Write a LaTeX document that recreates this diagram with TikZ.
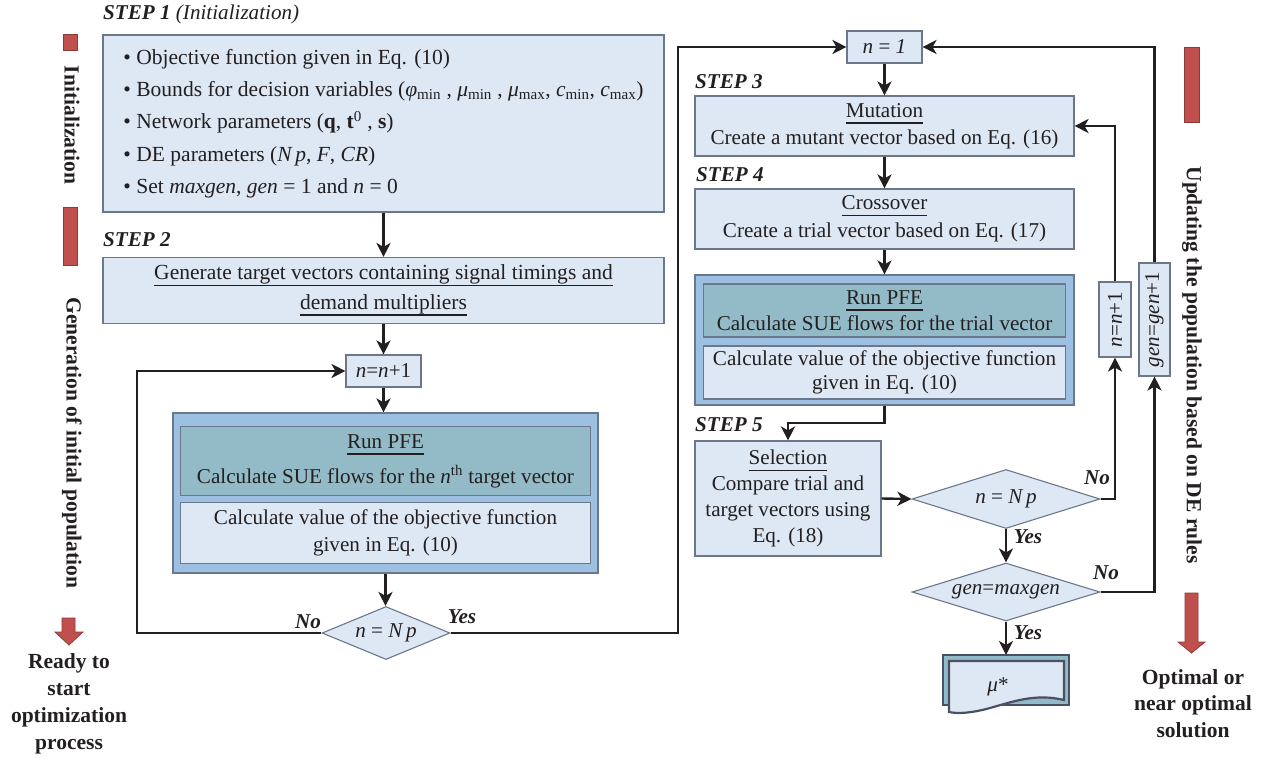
\documentclass[tikz,border=0pt]{standalone}
\usepackage{fontspec}
\setmainfont{Liberation Serif}
\usetikzlibrary{shapes.geometric,arrows.meta}
\definecolor{boxfill}{HTML}{DDE8F4}
\definecolor{boxline}{HTML}{6B788C}
\definecolor{pfeout}{HTML}{9DBFE1}
\definecolor{pfeteal}{HTML}{93BAC7}
\definecolor{redbar}{HTML}{C0504D}
\definecolor{redline}{HTML}{8C3A38}
\definecolor{ink}{HTML}{231F20}
\definecolor{docline}{HTML}{4A5162}
\newcommand\ulx[1]{\setbox0\hbox{#1}\rlap{\rule[-6.5bp]{\wd0}{1.7bp}}\box0}
\newcommand\fs[1]{\fontsize{21.2}{#1}\selectfont}
\newcommand\fsb[1]{\fontsize{21.6}{#1}\selectfont}
\tikzset{
  every node/.style={font=\fs{27}, text=ink},
  box/.style={draw=boxline, line width=1.1bp, fill=boxfill, inner sep=0pt, align=center},
  conn/.style={draw=ink, line width=2.4bp, -{Stealth[length=14bp,width=14bp,inset=4bp]}},
  dec/.style={diamond, draw=boxline, line width=1.1bp, fill=boxfill, inner sep=0pt},
  lbl/.style={font=\fs{27}\bfseries\itshape, inner sep=0pt},
  side/.style={font=\fsb{27}\bfseries, align=center, inner sep=0pt},
  redshape/.style={fill=redbar, draw=redline, line width=0.8bp},
}
\begin{document}
\begin{tikzpicture}[x=1bp, y=-1bp]
\useasboundingbox (0,0) rectangle (1263,758);

% red markers
\draw[redshape] (63,34) rectangle (77,50);
\draw[redshape] (63,207) rectangle (77,265);
\draw[redshape] (1184,47) rectangle (1199,122);
\draw[redshape] (62,618) -- (75,618) -- (75,632) -- (83,632) -- (69,645) -- (55,632) -- (62,632) -- cycle;
\draw[redshape] (1185,593) -- (1198,593) -- (1198,642) -- (1205,642) -- (1191.5,653) -- (1178,642) -- (1185,642) -- cycle;

% side labels
\node[side, rotate=-90] (sInit) at (72,125) {Initialization};
\node[side, rotate=-90] (sGen) at (72,443) {Generation of initial population};
\node[side, font=\fsb{27.3}\bfseries] (sReady) at (69,704) {Ready to\\start\\optimization\\process};
\node[side, rotate=-90] (sUpd) at (1192,365) {Updating the population based on DE rules};
\node[side, font=\fsb{26.5}\bfseries] (sOpt) at (1193,703.5) {Optimal or\\near optimal\\solution};

% step labels
\node[lbl, anchor=west] (st1) at (103,14) {STEP 1 {\mdseries (Initialization)}};
\node[lbl, anchor=west] (st2) at (103,240) {STEP 2};
\node[lbl, anchor=west] (st3) at (695,82) {STEP 3};
\node[lbl, anchor=west] (st4) at (696,175) {STEP 4};
\node[lbl, anchor=west] (st5) at (695,425) {STEP 5};

% left column
\node[box, align=left, minimum width=561bp, minimum height=177bp, font=\fsb{32.5}] (s1) at (383.5,123.5)
 {• Objective function given in Eq. (10)\\
  • Bounds for decision variables (\textit{φ}\textsubscript{min} , \textit{μ}\textsubscript{min} , \textit{μ}\textsubscript{max}, \textit{c}\textsubscript{min}, \textit{c}\textsubscript{max})\\
  • Network parameters (\textbf{q}, \textbf{t}\textsuperscript{0} , \textbf{s})\\
  • DE parameters (\textit{N\,p}, \textit{F}, \textit{CR})\\
  • Set \textit{maxgen}, \textit{gen} = 1 and \textit{n} = 0};
\node[box, minimum width=561bp, minimum height=66bp, font=\fsb{30}] (s2) at (383.5,290.5)
 {\ulx{Generate target vectors containing signal timings and}\\\ulx{demand multipliers}};
\node[box, minimum width=75bp, minimum height=32bp] (nn1) at (383.5,371) {\textit{n}=\textit{n}+1};
\node[box, fill=pfeout, minimum width=425bp, minimum height=160bp] (pfe1) at (385.5,493) {};
\node[box, fill=pfeteal, minimum width=410bp, minimum height=69bp, font=\fs{35}] (t1) at (385.5,461)
 {\ulx{Run PFE}\\Calculate SUE flows for the \textit{n}\textsuperscript{th} target vector};
\node[box, minimum width=410bp, minimum height=61bp, font=\fs{27}] (c1) at (385.5,533)
 {Calculate value of the objective function\\given in Eq. (10)};
\node[dec, aspect=2.4, minimum width=128bp, minimum height=53bp] (dA) at (386,633) {\textit{n} = \textit{N\,p}};

% right column
\node[box, minimum width=75bp, minimum height=32bp] (n1) at (884.5,47) {\textit{n} = \textit{1}};
\node[box, minimum width=379bp, minimum height=60bp, font=\fs{27}] (mut) at (884.5,126)
 {\ulx{Mutation}\\Create a mutant vector based on Eq. (16)};
\node[box, minimum width=379bp, minimum height=60bp, font=\fs{28}] (cro) at (884.5,219)
 {\ulx{Crossover}\\Create a trial vector based on Eq. (17)};
\node[box, fill=pfeout, minimum width=379bp, minimum height=130bp] (pfe2) at (884.5,340) {};
\node[box, fill=pfeteal, minimum width=362bp, minimum height=53bp, font=\fs{26}] (t2) at (884.5,310.5)
 {\ulx{Run PFE}\\Calculate SUE flows for the trial vector};
\node[box, minimum width=362bp, minimum height=53bp, font=\fs{24}] (c2) at (884.5,372.5)
 {Calculate value of the objective function\\given in Eq. (10)};
\node[box, minimum width=186bp, minimum height=115bp, font=\fs{26}] (sel) at (788,498.5)
 {\ulx{Selection}\\Compare trial and\\target vectors using\\Eq. (18)};
\node[dec, aspect=3.2, minimum width=188bp, minimum height=59bp] (dB) at (1006,499) {\textit{n} = \textit{N\,p}};
\node[dec, aspect=3.2, minimum width=188bp, minimum height=58bp] (dC) at (1006,592) {\textit{gen}=\textit{maxgen}};
\node[box, minimum width=32bp, minimum height=75bp] (nn2) at (1115,319.5) {\rotatebox{90}{\textit{n}=\textit{n}+1}};
\node[box, minimum width=31bp, minimum height=113bp] (gg) at (1154.5,319.5) {\rotatebox{90}{\textit{gen}=\textit{gen}+1}};

% output document
\draw[draw=docline, line width=2.2bp, fill=pfeteal] (943,655) rectangle (1069,705);
\draw[draw=docline, line width=2.2bp, fill=boxfill] (949,661) -- (1064,661) -- (1064,700)
  .. controls (1035,693) and (1012,702) .. (990,708) .. controls (972,713) and (958,714) .. (949,712) -- cycle;
\coordinate (doctop) at (1006,655);
\node (mu) at (998,687) {\textit{μ}*};

% yes/no labels
\node[lbl] (noA) at (308,622) {No};
\node[lbl] (yesA) at (462,617) {Yes};
\node[lbl] (noB) at (1097,478) {No};
\node[lbl] (yesB) at (1028,537) {Yes};
\node[lbl] (noC) at (1106,573) {No};
\node[lbl] (yesC) at (1028,633) {Yes};

% connectors
\coordinate (jl) at (137,0);
\coordinate (jr) at (678,0);
\coordinate (j5) at (0,423);
\draw[conn] (s1.south) -- (s1.south |- s2.north);
\draw[conn] (s2.south) -- (s2.south |- nn1.north);
\draw[conn] (nn1.south) -- (nn1.south |- pfe1.north);
\draw[conn] (pfe1.south) -- (pfe1.south |- dA.north);
\draw[conn] (dA.west) -- (dA.west -| jl) |- (nn1.west);
\draw[conn] (dA.east) -- (dA.east -| jr) |- (n1.west);
\draw[conn] (n1.south) -- (n1.south |- mut.north);
\draw[conn] (mut.south) -- (mut.south |- cro.north);
\draw[conn] (cro.south) -- (cro.south |- pfe2.north);
\draw[conn] (pfe2.south) -- (pfe2.south |- j5) -| (sel.north);
\draw[conn] (sel.east) -- (dB.west);
\draw[conn] (dB.south) -- (dC.north);
\draw[conn] (dC.south) -- (doctop);
\draw[conn] (dB.east) -| (nn2.south);
\draw[conn] (nn2.north) |- (mut.east);
\draw[conn] (dC.east) -| (gg.south);
\draw[conn] (gg.north) |- (n1.east);
\end{tikzpicture}
\end{document}
